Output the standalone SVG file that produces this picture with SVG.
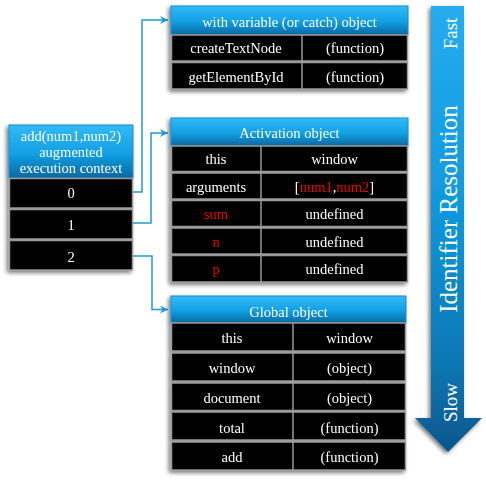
<svg xmlns="http://www.w3.org/2000/svg" width="486" height="500" viewBox="0 0 486 500">
<defs>
<linearGradient id="hdr" x1="0" y1="0" x2="0" y2="1">
<stop offset="0" stop-color="#33baf7"/>
<stop offset="0.55" stop-color="#129fe3"/>
<stop offset="1" stop-color="#0a67a0"/>
</linearGradient>
<linearGradient id="arr" x1="0" y1="6" x2="0" y2="452" gradientUnits="userSpaceOnUse">
<stop offset="0" stop-color="#26acf0"/>
<stop offset="0.45" stop-color="#1098dc"/>
<stop offset="0.8" stop-color="#0b77b4"/>
<stop offset="1" stop-color="#06578a"/>
</linearGradient>
<filter id="sh" x="-10%" y="-10%" width="120%" height="120%">
<feDropShadow dx="-2" dy="2" stdDeviation="2" flood-color="#000" flood-opacity="0.55"/>
</filter>
<marker id="ah" viewBox="0 0 10 10" refX="10" refY="5" markerWidth="8" markerHeight="8" markerUnits="userSpaceOnUse" orient="auto">
<path d="M0,0 L10,5 L0,10 L3,5 z" fill="#1e9ad8"/>
</marker>
<style>
text{font-family:"Liberation Serif","Times New Roman",serif;font-size:14.5px;fill:#fff;text-anchor:middle}
.h{fill:url(#hdr);stroke:#1a8fd0;stroke-width:1}
.r{fill:#000;stroke:#9a9a9a;stroke-width:1.5}
.d{stroke:#9a9a9a;stroke-width:1.5}
.red{fill:#f20000}
.c{fill:none;stroke:#1e9ad8;stroke-width:1.5}
.at{font-size:19px}
.big{font-size:25px}
</style>
</defs>

<g id="connectors">
<path class="c" d="M133,192 H142 V20 H168" marker-end="url(#ah)"/>
<path class="c" d="M133,223 H151 V133 H168" marker-end="url(#ah)"/>
<path class="c" d="M133,256 H152 V309.5 H168" marker-end="url(#ah)"/>
</g>

<g id="context" filter="url(#sh)">
<rect class="h" x="9" y="125" width="124" height="53"/>
<text x="71" y="141">add(num1,num2)</text>
<text x="71" y="157">augmented</text>
<text x="71" y="173">execution context</text>
<rect class="r" x="9.5" y="178.5" width="123" height="29.5"/>
<text x="71" y="198">0</text>
<rect class="r" x="9.5" y="209.5" width="123" height="29.5"/>
<text x="71" y="230">1</text>
<rect class="r" x="9.5" y="240.5" width="123" height="29.5"/>
<text x="71" y="262">2</text>
</g>

<g id="with-object" filter="url(#sh)">
<rect class="h" x="171" y="6" width="237" height="29"/>
<text x="289.5" y="27">with variable (or catch) object</text>
<rect class="r" x="171.5" y="35" width="236" height="26"/>
<line class="d" x1="302" y1="35" x2="302" y2="61"/>
<text x="236" y="53">createTextNode</text>
<text x="355" y="53">(function)</text>
<rect class="r" x="171.5" y="62.5" width="236" height="26.5"/>
<line class="d" x1="302" y1="62.5" x2="302" y2="89"/>
<text x="236" y="82">getElementById</text>
<text x="355" y="82">(function)</text>
</g>

<g id="activation-object" filter="url(#sh)">
<rect class="h" x="171" y="118" width="237" height="28"/>
<text x="289.5" y="138">Activation object</text>
<rect class="r" x="171.5" y="146" width="236" height="25.5"/>
<line class="d" x1="261" y1="146" x2="261" y2="171.5"/>
<text x="216" y="164">this</text>
<text x="334.5" y="164">window</text>
<rect class="r" x="171.5" y="173" width="236" height="26"/>
<line class="d" x1="261" y1="173" x2="261" y2="199"/>
<text x="216" y="192">arguments</text>
<text x="334.5" y="192">[<tspan class="red">num1</tspan>,<tspan class="red">num2</tspan>]</text>
<rect class="r" x="171.5" y="200.5" width="236" height="26"/>
<line class="d" x1="261" y1="200.5" x2="261" y2="226.5"/>
<text class="red" x="216" y="219">sum</text>
<text x="334.5" y="219">undefined</text>
<rect class="r" x="171.5" y="228" width="236" height="26"/>
<line class="d" x1="261" y1="228" x2="261" y2="254"/>
<text class="red" x="216" y="247">n</text>
<text x="334.5" y="247">undefined</text>
<rect class="r" x="171.5" y="255.5" width="236" height="26.5"/>
<line class="d" x1="261" y1="255.5" x2="261" y2="282"/>
<text class="red" x="216" y="274">p</text>
<text x="334.5" y="274">undefined</text>
</g>

<g id="global-object" filter="url(#sh)">
<rect class="h" x="171" y="296" width="235" height="27"/>
<text x="288.5" y="317">Global object</text>
<rect class="r" x="171.5" y="323" width="234" height="28"/>
<line class="d" x1="293" y1="323" x2="293" y2="351"/>
<text x="232" y="343">this</text>
<text x="349.5" y="343">window</text>
<rect class="r" x="171.5" y="353" width="234" height="28"/>
<line class="d" x1="293" y1="353" x2="293" y2="381"/>
<text x="232" y="373">window</text>
<text x="349.5" y="373">(object)</text>
<rect class="r" x="171.5" y="383" width="234" height="27.5"/>
<line class="d" x1="293" y1="383" x2="293" y2="410.5"/>
<text x="232" y="403">document</text>
<text x="349.5" y="403">(object)</text>
<rect class="r" x="171.5" y="412" width="234" height="28"/>
<line class="d" x1="293" y1="412" x2="293" y2="440"/>
<text x="232" y="433">total</text>
<text x="349.5" y="433">(function)</text>
<rect class="r" x="171.5" y="442" width="234" height="28"/>
<line class="d" x1="293" y1="442" x2="293" y2="470"/>
<text x="232" y="462">add</text>
<text x="349.5" y="462">(function)</text>
</g>

<g id="resolution-arrow">
<path d="M431,6 H464 V418 H482 L448,452 L415,418 H431 Z" fill="url(#arr)" filter="url(#sh)"/>
<text class="at" transform="translate(457,33.5) rotate(-90)">Fast</text>
<text class="big" transform="translate(457,209) rotate(-90)">Identifier Resolution</text>
<text class="at" transform="translate(457,402.5) rotate(-90)">Slow</text>
</g>
</svg>
